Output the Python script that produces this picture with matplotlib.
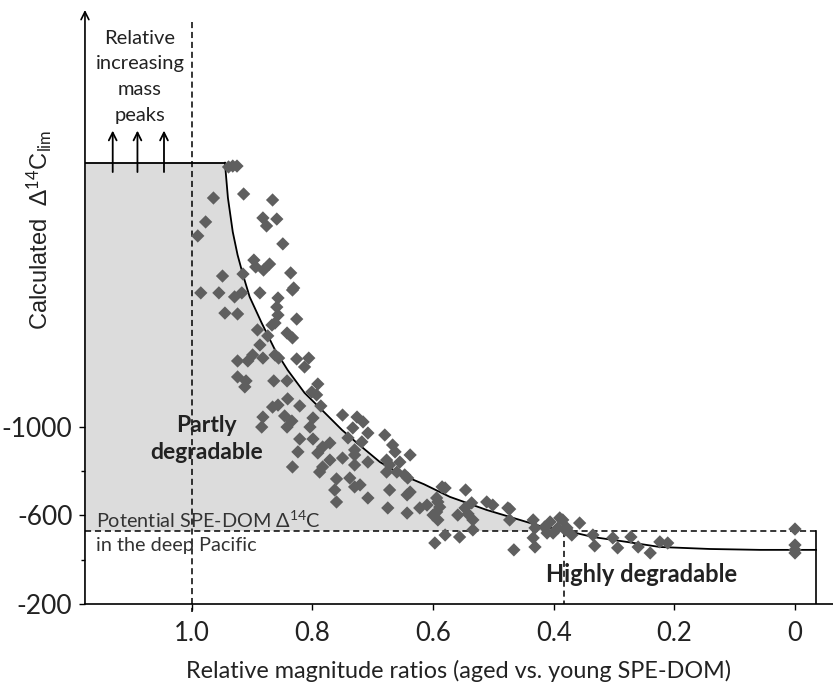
import numpy as np
import matplotlib
matplotlib.use('Agg')
import matplotlib.pyplot as plt

# ---------------- data ----------------
ratio = [0.939, 0.932, 0.925, 0.964, 0.914, 0.866, 0.977, 0.882, 0.876, 0.859,
         0.990, 0.849, 0.897, 0.894, 0.881, 0.871, 0.949, 0.915, 0.836, 0.831,
         0.985, 0.955, 0.929, 0.917, 0.887, 0.857, 0.833, 0.859, 0.945, 0.924,
         0.857, 0.826, 0.867, 0.862, 0.891, 0.874, 0.842, 0.833, 0.887, 0.924,
         0.907, 0.899, 0.882, 0.862, 0.856, 0.826, 0.806, 0.813, 0.924, 0.910,
         0.912, 0.864, 0.842, 0.791, 0.801, 0.793, 0.841, 0.866, 0.857, 0.821,
         0.786, 0.882, 0.846, 0.834, 0.799, 0.750, 0.884, 0.842, 0.804, 0.726,
         0.716, 0.733, 0.708, 0.741, 0.718, 0.680, 0.821, 0.799, 0.771, 0.783,
         0.791, 0.824, 0.730, 0.730, 0.667, 0.663, 0.638, 0.750, 0.708, 0.771,
         0.783, 0.833, 0.730, 0.677, 0.672, 0.655, 0.788, 0.677, 0.660, 0.647,
         0.642, 0.760, 0.738, 0.730, 0.721, 0.763, 0.672, 0.638, 0.585, 0.760,
         0.708, 0.643, 0.594, 0.675, 0.643, 0.622, 0.610, 0.589, 0.600, 0.580,
         0.592, 0.594, 0.592, 0.546, 0.536, 0.547, 0.559, 0.542, 0.534, 0.580,
         0.597, 0.556, 0.534, 0.511, 0.501, 0.476, 0.473, 0.434, 0.431, 0.434,
         0.431, 0.466, 0.415, 0.406, 0.411, 0.401, 0.393, 0.385, 0.378, 0.370,
         0.357, 0.381, 0.335, 0.332, 0.302, 0.294, 0.272, 0.260, 0.240, 0.224,
         0.211, 0.000, 0.000, 0.000, 0.000, 0.473, 0.390]
d14c = [-2171, -2175, -2175, -2031, -2049, -2022, -1923, -1941, -1905, -1936,
        -1860, -1824, -1751, -1720, -1706, -1733, -1679, -1688, -1693, -1625,
        -1603, -1603, -1585, -1603, -1603, -1580, -1616, -1539, -1512, -1508,
        -1503, -1485, -1458, -1467, -1436, -1409, -1422, -1400, -1368, -1296,
        -1296, -1323, -1309, -1323, -1309, -1305, -1309, -1269, -1224, -1206,
        -1179, -1206, -1206, -1192, -1156, -1143, -1125, -1088, -1097, -1093,
        -1093, -1043, -1048, -1025, -1039, -1052, -998, -998, -998, -1043,
        -1021, -994, -971, -949, -931, -962, -944, -944, -926, -908,
        -881, -886, -895, -872, -917, -886, -872, -858, -840, -849,
        -818, -818, -827, -849, -827, -840, -795, -795, -795, -782,
        -768, -764, -768, -728, -737, -714, -714, -705, -728, -660,
        -678, -692, -678, -633, -610, -633, -646, -637, -601, -723,
        -660, -615, -579, -714, -656, -633, -601, -606, -579, -511,
        -475, -502, -534, -660, -646, -633, -579, -579, -543, -498,
        -457, -444, -547, -570, -520, -520, -543, -579, -543, -511,
        -565, -534, -511, -462, -498, -453, -502, -457, -430, -480,
        -475, -538, -466, -444, -430, -628, -588]

curve_ratio = [0.945, 0.940, 0.932, 0.924, 0.915, 0.904, 0.884, 0.862, 0.841,
               0.813, 0.779, 0.751, 0.726, 0.688, 0.650, 0.615, 0.572, 0.511,
               0.456, 0.423, 0.385, 0.335, 0.279, 0.224, 0.141, 0.058, -0.035]
curve_d14c = [-2190, -2031, -1878, -1774, -1684, -1585, -1467, -1346, -1255,
              -1152, -1061, -985, -926, -840, -780, -740, -683, -624,
              -579, -552, -534, -502, -480, -457, -448, -444, -444]

plateau = -2190
deep_pacific = -530
cutoff_ratio = 0.383
right_edge = -0.035
xticks = [1.0, 0.8, 0.6, 0.4, 0.2, 0.0]
xticklabels = ['1.0', '0.8', '0.6', '0.4', '0.2', '0']
yticks = [-200, -600, -1000]
yticklabels = ['-200', '-600', '-1000']
yminor = [-400, -800]
arrow_x = [1.131, 1.090, 1.046]

# ---------------- figure ----------------
plt.rcParams['font.family'] = ['Lato', 'DejaVu Sans']
plt.rcParams['mathtext.fontset'] = 'custom'
plt.rcParams['mathtext.rm'] = 'Lato'
plt.rcParams['mathtext.it'] = 'Lato:italic'

fig = plt.figure(figsize=(8.33, 6.83), dpi=100)
ax = fig.add_axes([0.102, 0.1157, 0.898, 0.8697])
xmin, xmax = 1.177, -0.063
ymin, ymax = -200, -2879
ax.set_xlim(xmin, xmax)
ax.set_ylim(ymin, ymax)

cr = np.array(curve_ratio)
cd = np.array(curve_d14c)
x_cross = np.interp(deep_pacific, cd, cr)
mask = cd <= deep_pacific
poly_x = [xmin] + list(cr[mask]) + [x_cross, xmin]
poly_y = [plateau] + list(cd[mask]) + [deep_pacific, deep_pacific]
ax.fill(poly_x, poly_y, color='#dcdcdc', lw=0, zorder=1)

ax.plot(cr, cd, color='black', lw=1.3, zorder=3)
ax.plot([xmin, cr[0]], [plateau, plateau], color='black', lw=1.3, zorder=3)

dash = (0, (4, 2.5))
ax.plot([xmin, right_edge], [deep_pacific, deep_pacific], color='black', lw=1.1,
        linestyle=dash, zorder=2)
ax.plot([right_edge, right_edge], [deep_pacific, ymin], color='black', lw=1.2, zorder=2)
ax.plot([cutoff_ratio, cutoff_ratio], [deep_pacific, ymin], color='black', lw=1.1,
        linestyle=dash, zorder=2)
ax.plot([1.0, 1.0], [-2825, -164], color='black', lw=1.1, linestyle=dash,
        zorder=2, clip_on=False)

ax.scatter(ratio, d14c, marker='D', s=46, color='#5f5f5f', edgecolors='none', zorder=4)

for xa in arrow_x:
    ax.annotate('', xy=(xa, -2335), xytext=(xa, -2148),
                arrowprops=dict(arrowstyle='->', lw=1.3, color='black',
                                shrinkA=0, shrinkB=0, mutation_scale=14))

# y axis arrow
ax.spines['left'].set_visible(False)
ax.spines['top'].set_visible(False)
ax.spines['right'].set_visible(False)
ax.spines['bottom'].set_linewidth(1.2)
ax.annotate('', xy=(0, 1), xytext=(0, 0), xycoords='axes fraction',
            textcoords='axes fraction',
            arrowprops=dict(arrowstyle='->', lw=1.2, color='black',
                            shrinkA=0, shrinkB=0, mutation_scale=14))

ax.set_xticks(xticks)
ax.set_xticklabels(xticklabels, fontsize=18.5, color='#222222')
ax.set_yticks(yticks)
ax.set_yticklabels(yticklabels, fontsize=19, color='#222222')
ax.set_yticks(yminor, minor=True)
ax.tick_params(axis='x', direction='out', length=4, width=1, pad=8)
ax.tick_params(axis='y', which='major', direction='out', length=4, width=1, pad=5)
ax.tick_params(axis='y', which='minor', direction='out', length=3, width=1)

ax.set_xlabel('Relative magnitude ratios (aged vs. young SPE-DOM)', fontsize=16.8,
              color='#222222', labelpad=10)
fig.text(40 / 833, 1 - 230 / 683, r'Calculated  $\Delta^{14}$C$_{\rm lim}$',
         rotation=90, ha='center', va='center', fontsize=17,
         family=['Liberation Sans', 'DejaVu Sans'], color='#222222')

ax.text(1.086, -2578, 'Relative\nincreasing\nmass\npeaks', ha='center', va='center',
        fontsize=14.5, linespacing=1.62, color='#222222')
ax.text(0.975, -944, 'Partly\ndegradable', ha='center', va='center', fontsize=16.5,
        fontweight='bold', linespacing=1.3, color='#222222')
ax.text(0.255, -335, 'Highly degradable', ha='center', va='center', fontsize=17,
        fontweight='bold', color='#222222')
ax.text(1.158, -527, 'Potential SPE-DOM $\\Delta^{14}$C\nin the deep Pacific',
        ha='left', va='center', fontsize=14.3, linespacing=1.45, color='#333333')

fig.savefig('out.png', dpi=100)
